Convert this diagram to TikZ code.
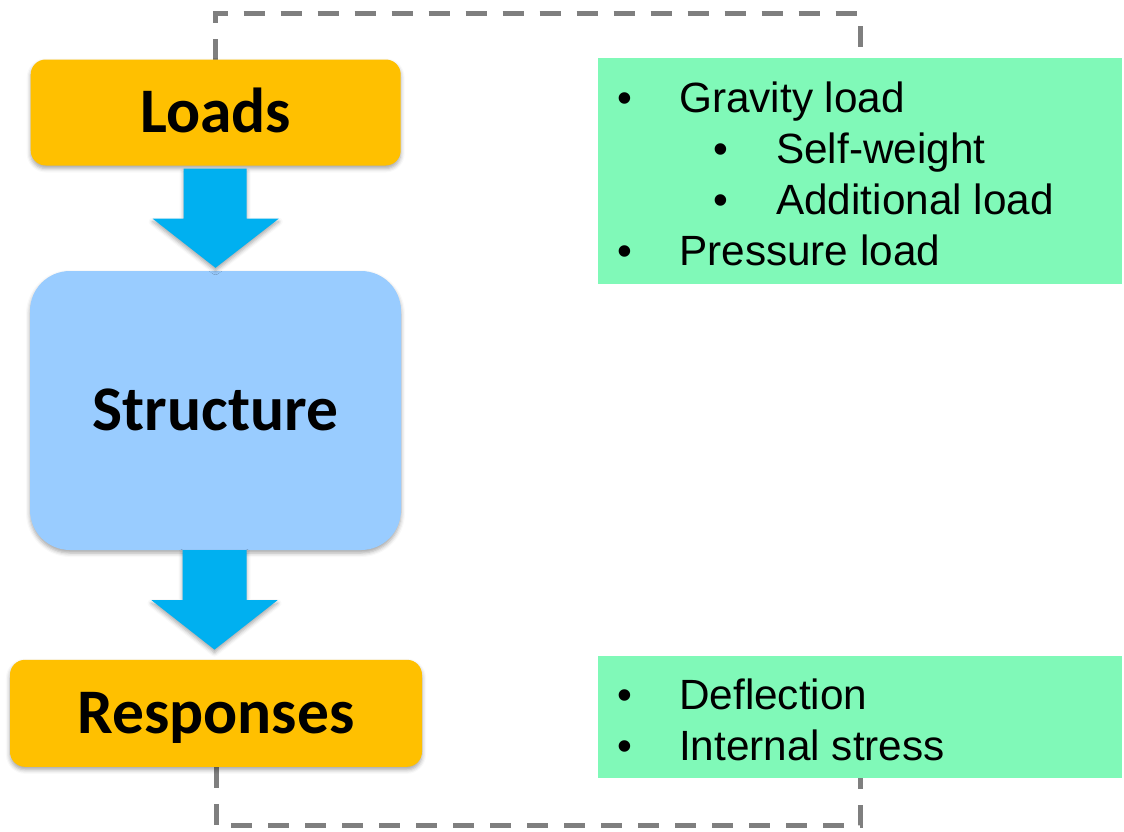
\documentclass[tikz,border=0pt]{standalone}
\usepackage{fontspec}
\setmainfont{Liberation Sans}
\newfontfamily\calfont{Carlito}
\usetikzlibrary{calc,shadows.blur}
\definecolor{orangebox}{HTML}{FFC000}
\definecolor{bluebox}{HTML}{99CCFF}
\definecolor{arrowblue}{HTML}{00B0F0}
\definecolor{greenbox}{HTML}{80F9B8}
\definecolor{dashgray}{HTML}{7F7F7F}
\begin{document}
\begin{tikzpicture}[x=1pt,y=-1pt,
  flowbox/.style={inner sep=0pt, font=\calfont\bfseries\fontsize{63.5}{70}\selectfont,
    text height=40.6pt, text depth=0pt,
    blur shadow={shadow xshift=0pt, shadow yshift=-3pt, shadow blur radius=4pt, shadow opacity=35}},
  loadbox/.style={flowbox, fill=orangebox, rounded corners=15pt},
  structbox/.style={flowbox, fill=bluebox, rounded corners=40pt},
  infobox/.style={fill=greenbox, inner sep=0pt},
  bigarrow/.style={fill=arrowblue, blur shadow={shadow xshift=0pt, shadow yshift=-3pt, shadow blur radius=4pt, shadow opacity=35}},
  feedback/.style={dashgray, line width=5pt, dash pattern=on 21pt off 16pt},
  bulletmark/.style={anchor=base, inner sep=0pt, font=\fontsize{42.3}{50}\selectfont},
  itemtext/.style={anchor=base west, inner sep=0pt, font=\fontsize{42.3}{50}\selectfont}
]
\useasboundingbox (0,0) rectangle (1124,831);

% boxes
\node[infobox, minimum width=524pt, minimum height=226pt] (G1) at (860,171) {};
\node[infobox, minimum width=524pt, minimum height=122pt] (G2) at (860,717) {};

% feedback dashed lines
\draw[feedback] (215.7,59.5) coordinate (Ltop) -- ++(0,-46) -| (G1.north);
\draw[feedback] (216,766.8) coordinate (Rbot) -- ++(0,59) -| (G2.south);

\node[loadbox, minimum width=370pt, minimum height=106pt] (L) at (215.7,112.5) {Loads};
\node[structbox, minimum width=371pt, minimum height=279pt] (S) at (215.5,410.5) {Structure};
\node[loadbox, minimum width=412pt, minimum height=107pt] (R) at (216,713.3) {Responses};

% block arrows
\path[bigarrow] ($(L.south)+(-32,3)$) -- ($(L.south)+(31,3)$) -- ($(L.south)+(31,53)$)
  -- ($(L.south)+(63,53)$) -- ($(S.north)+(0,-3)$) -- ($(L.south)+(-63,53)$)
  -- ($(L.south)+(-32,53)$) -- cycle;
\path[bigarrow] ($(S.south)+(-33,0)$) -- ($(S.south)+(31,0)$) -- ($(S.south)+(31,50)$)
  -- ($(S.south)+(62,50)$) -- ($(R.north)+(-1.5,-10)$) -- ($(S.south)+(-64,50)$)
  -- ($(S.south)+(-33,50)$) -- cycle;

% texts
\node[bulletmark] (b1) at (625,112) {•};
\node[itemtext] (t1) at (679,112) {Gravity load};
\node[bulletmark] (b2) at (721,163) {•};
\node[itemtext] (t2) at (776,163) {Self-weight};
\node[bulletmark] (b3) at (721,214) {•};
\node[itemtext] (t3) at (776,214) {Additional load};
\node[bulletmark] (b4) at (625,265) {•};
\node[itemtext] (t4) at (679,265) {Pressure load};
\node[bulletmark] (b5) at (625,709) {•};
\node[itemtext] (t5) at (679,709) {Deflection};
\node[bulletmark] (b6) at (625,760) {•};
\node[itemtext] (t6) at (679,760) {Internal stress};
\end{tikzpicture}
\end{document}
